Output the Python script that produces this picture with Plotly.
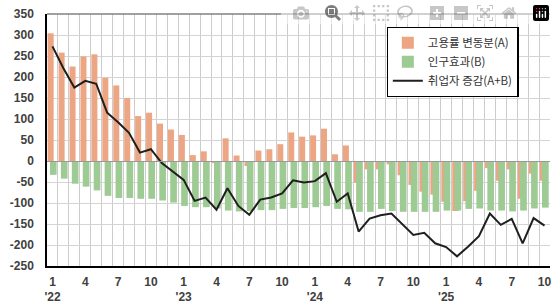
import plotly.graph_objects as go

months = [f"{y}-{m:02d}" for y in range(2022, 2026) for m in range(1, 13)][:46]

rate_effect = [304, 258, 225, 249, 254, 198, 180, 150, 107, 115, 89, 75,
               62, 14, 23, -5, 54, 13, -12, 25, 28, 40, 68, 58,
               61, 77, 16, 37, -52, -20, -20, -8, -34, -57, -73, -80,
               -97, -119, -96, -71, -17, -47, -20, -90, -30, -47]
pop_effect = [-33, -42, -54, -61, -70, -83, -88, -88, -90, -90, -94, -99,
              -107, -110, -110, -113, -118, -120, -119, -117, -117, -114, -112, -112,
              -110, -107, -114, -115, -121, -121, -114, -119, -121, -121, -121, -121,
              -118, -118, -114, -113, -118, -118, -120, -118, -113, -111]
total_change = [273, 221, 175, 191, 184, 115, 92, 67, 20, 28, -5, -24,
                -45, -95, -87, -116, -65, -107, -128, -92, -87, -77, -46, -51,
                -48, -29, -97, -77, -168, -137, -129, -125, -150, -176, -171, -196,
                -205, -227, -204, -179, -125, -152, -138, -196, -136, -154]

month_tick_pos = [0, 3, 6, 9, 12, 15, 18, 21, 24, 27, 30, 33, 36, 39, 42, 45]
month_tick_text = ["1", "4", "7", "10", "1", "4", "7", "10",
                   "1", "4", "7", "10", "1", "4", "7", "10"]
year_tick_pos = [0, 12, 24, 36]
year_tick_text = ["'22", "'23", "'24", "'25"]
y_tick_vals = [350, 300, 250, 200, 150, 100, 50, 0, -50, -100, -150, -200, -250]
y_tick_text = ["350", "300", "250", "200", "150", "100", "50", "0",
               "-50", "-100", "-150", "-200", "-250"]

names = ["고용률 변동분(A)", "인구효과(B)", "취업자 증감(A+B)"]

x = list(range(len(months)))
boundaries = [i - 0.5 for i in range(len(months) + 1)]

ORANGE = "#ECA683"
GREEN = "#9DCB93"
tick_font = dict(family="Liberation Sans", size=12, color="#404040", weight="bold")

fig = go.Figure()
fig.add_trace(go.Bar(x=x, y=rate_effect, name=names[0], marker_color=ORANGE,
                     marker_line_width=0, width=0.55, offset=-0.44))
fig.add_trace(go.Bar(x=x, y=pop_effect, name=names[1], marker_color=GREEN,
                     marker_line_width=0, width=0.61, offset=-0.23))
fig.add_trace(go.Scatter(x=x, y=total_change, name=names[2], mode="lines",
                         line=dict(color="#1f1f1f", width=2), xaxis="x2"))

xrange = [-0.5, len(months) - 0.5]
fig.update_layout(
    width=555, height=307,
    margin=dict(l=47, r=3, t=14, b=39),
    paper_bgcolor="white", plot_bgcolor="white",
    barmode="overlay",
    showlegend=True,
    legend=dict(x=0.675, y=0.949, xanchor="left", yanchor="top",
                bgcolor="white", bordercolor="#000000", borderwidth=1.3,
                font=dict(family="Noto Sans CJK KR", size=11.5, color="#333333"),
                itemwidth=30),
    xaxis=dict(range=xrange, tickmode="array", tickvals=month_tick_pos,
               ticktext=month_tick_text, showgrid=False, zeroline=False,
               showline=True, linecolor="black", linewidth=1.5, ticks="",
               tickfont=tick_font, ticklabelstandoff=4,
               minor=dict(tickmode="array", tickvals=boundaries, showgrid=True,
                          gridcolor="#cccccc", gridwidth=1, ticks="")),
    xaxis2=dict(range=xrange, overlaying="x", anchor="y", side="bottom",
                tickmode="array", tickvals=year_tick_pos, ticktext=year_tick_text,
                showgrid=False, zeroline=False, showline=False, ticks="",
                tickfont=tick_font, ticklabelstandoff=22),
    yaxis=dict(range=[-250, 350], tickmode="array", tickvals=y_tick_vals,
               ticktext=y_tick_text, showgrid=True, gridcolor="#d4d4d4", gridwidth=1,
               zeroline=True, zerolinecolor="#999999", zerolinewidth=1,
               zerolinelayer="above traces",
               showline=True, linecolor="black", linewidth=1.5, ticks="",
               tickfont=tick_font, ticklabelstandoff=9),
    shapes=[dict(type="line", xref="paper", yref="paper", x0=0, x1=1, y0=1, y1=1,
                 line=dict(color="#808080", width=1.5))],
)

fig.write_html("out.html",
               post_script="document.body.style.margin='0';document.body.style.overflow='hidden';")
